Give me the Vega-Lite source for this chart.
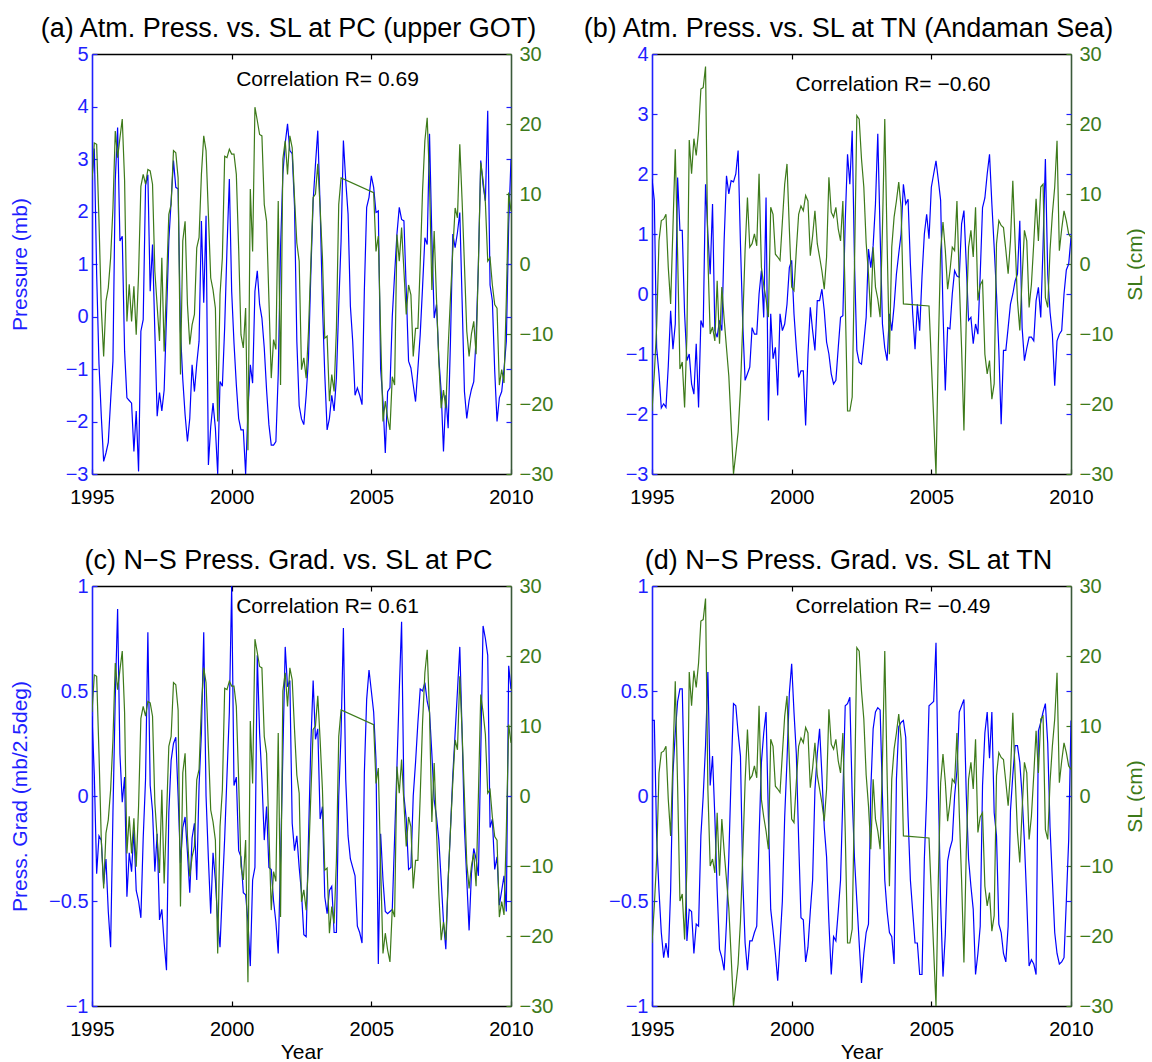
{
"$schema": "https://vega.github.io/schema/vega-lite/v6.json",
"background": "white",
"padding": {"left": 9, "top": 15, "right": 0, "bottom": 0},
"config": {
  "font": "Liberation Sans",
  "view": {"stroke": null},
  "axis": {"grid": false, "labelFlush": false, "labelFont": "Liberation Sans", "titleFont": "Liberation Sans", "labelFontSize": 20, "titleFontSize": 21, "titleFontWeight": "normal", "tickSize": -5, "tickWidth": 1.2, "domainWidth": 1.6, "labelPadding": 9},
  "axisBottom": {"labelPadding": 18},
  "axisRight": {"labelPadding": 13},
  "title": {"font": "Liberation Sans", "fontSize": 27, "fontWeight": "normal", "color": "black", "anchor": "middle", "baseline": "alphabetic", "offset": 1, "dx": -13}
},
"datasets": {"ts": [
{"t":1995,"pa":2.6,"sa":12,"pb":1.92,"sb":-21,"gc":0.38,"gd":0.36},
{"t":1995.083,"pa":3.2,"sa":17.3,"pb":1.56,"sb":-15.7,"gc":0.1,"gd":0.36},
{"t":1995.167,"pa":0.8,"sa":17.1,"pb":-0.9,"sb":-9,"gc":-0.37,"gd":-0.2},
{"t":1995.25,"pa":-0.9,"sa":6.1,"pb":-1.33,"sb":3.3,"gc":-0.19,"gd":-0.45},
{"t":1995.333,"pa":-1.9,"sa":-6.3,"pb":-1.9,"sb":6.2,"gc":-0.21,"gd":-0.65},
{"t":1995.417,"pa":-2.76,"sa":-13.2,"pb":-1.83,"sb":6.4,"gc":-0.42,"gd":-0.77},
{"t":1995.5,"pa":-2.6,"sa":-5.3,"pb":-1.89,"sb":7.1,"gc":-0.3,"gd":-0.7},
{"t":1995.583,"pa":-2.4,"sa":-3.4,"pb":-1.2,"sb":-0.5,"gc":-0.55,"gd":-0.77},
{"t":1995.667,"pa":-1.6,"sa":0.9,"pb":-0.28,"sb":-5.7,"gc":-0.72,"gd":-0.45},
{"t":1995.75,"pa":-0.85,"sa":8,"pb":-0.92,"sb":5.2,"gc":-0.08,"gd":0.11},
{"t":1995.833,"pa":2.6,"sa":19,"pb":-0.5,"sb":16.4,"gc":0.47,"gd":0.3},
{"t":1995.917,"pa":3.6,"sa":15.2,"pb":1.94,"sb":1.4,"gc":0.89,"gd":0.45},
{"t":1996,"pa":1.44,"sa":18,"pb":1.06,"sb":-15,"gc":0.2,"gd":0.51},
{"t":1996.083,"pa":1.53,"sa":20.7,"pb":1.06,"sb":-14,"gc":-0.03,"gd":0.51},
{"t":1996.167,"pa":-0.66,"sa":11.9,"pb":-0.33,"sb":-20.5,"gc":0.09,"gd":0},
{"t":1996.25,"pa":-1.55,"sa":-8.2,"pb":-1.11,"sb":-10.2,"gc":-0.48,"gd":-0.69},
{"t":1996.333,"pa":-1.6,"sa":-2.9,"pb":-1,"sb":17.7,"gc":-0.27,"gd":-0.54},
{"t":1996.417,"pa":-1.65,"sa":-8.2,"pb":-1.5,"sb":12.9,"gc":-0.36,"gd":-0.55},
{"t":1996.5,"pa":-2.57,"sa":-3.2,"pb":-1.67,"sb":17.9,"gc":-0.16,"gd":-0.75},
{"t":1996.583,"pa":-1.8,"sa":-10.1,"pb":-0.83,"sb":15.5,"gc":-0.45,"gd":-0.61},
{"t":1996.667,"pa":-2.95,"sa":-1.5,"pb":-1.89,"sb":19,"gc":-0.5,"gd":-0.62},
{"t":1996.75,"pa":-0.28,"sa":11.1,"pb":-0.44,"sb":25,"gc":-0.58,"gd":-0.19},
{"t":1996.833,"pa":-0.06,"sa":12.8,"pb":-0.56,"sb":25.2,"gc":-0.2,"gd":0},
{"t":1996.917,"pa":2.5,"sa":11.4,"pb":1.83,"sb":28.2,"gc":0.08,"gd":0.24},
{"t":1997,"pa":2.7,"sa":13.5,"pb":1,"sb":1,"gc":0.78,"gd":0.59},
{"t":1997.083,"pa":0.48,"sa":13.3,"pb":0.33,"sb":-10,"gc":0.05,"gd":0.05},
{"t":1997.167,"pa":1.37,"sa":11.4,"pb":1.5,"sb":-9,"gc":-0.07,"gd":0.19},
{"t":1997.25,"pa":-0.3,"sa":-1,"pb":-0.61,"sb":-11,"gc":-0.36,"gd":-0.1},
{"t":1997.333,"pa":-1.9,"sa":-6,"pb":-0.72,"sb":-2.4,"gc":-0.18,"gd":-0.45},
{"t":1997.417,"pa":-1.45,"sa":-11,"pb":-0.44,"sb":-11.4,"gc":-0.59,"gd":-0.73},
{"t":1997.5,"pa":-1.8,"sa":0.9,"pb":-0.61,"sb":-3.3,"gc":-0.54,"gd":-0.77},
{"t":1997.583,"pa":-1.4,"sa":-12.5,"pb":0.9,"sb":-7.9,"gc":-0.7,"gd":-0.83},
{"t":1997.667,"pa":0,"sa":-3,"pb":1.97,"sb":-12,"gc":-0.83,"gd":-0.6},
{"t":1997.75,"pa":1.44,"sa":7.1,"pb":1.67,"sb":-16,"gc":-0.08,"gd":-0.29},
{"t":1997.833,"pa":2.2,"sa":8.5,"pb":1.89,"sb":-22.9,"gc":0.17,"gd":0.1},
{"t":1997.917,"pa":2.97,"sa":16.2,"pb":1.87,"sb":-30,"gc":0.25,"gd":0.44},
{"t":1998,"pa":2.46,"sa":15.9,"pb":2,"sb":-27.1,"gc":0.28,"gd":0.43},
{"t":1998.083,"pa":2.43,"sa":12.3,"pb":2.39,"sb":-24,"gc":0,"gd":0.3},
{"t":1998.167,"pa":-0.28,"sa":-15.8,"pb":0.83,"sb":-17.9,"gc":-0.32,"gd":0.19},
{"t":1998.25,"pa":-1.2,"sa":3.3,"pb":-0.5,"sb":-8.3,"gc":-0.15,"gd":-0.4},
{"t":1998.333,"pa":-1.87,"sa":6.1,"pb":-1.44,"sb":2,"gc":-0.1,"gd":-0.7},
{"t":1998.417,"pa":-2.38,"sa":-5.8,"pb":-1.33,"sb":9.5,"gc":-0.27,"gd":-0.83},
{"t":1998.5,"pa":-1.94,"sa":-11.5,"pb":-1.22,"sb":2.4,"gc":-0.46,"gd":-0.69},
{"t":1998.583,"pa":-0.92,"sa":-8.7,"pb":-0.56,"sb":2.9,"gc":-0.2,"gd":-0.69},
{"t":1998.667,"pa":-1.43,"sa":-7.2,"pb":-0.67,"sb":4.3,"gc":-0.13,"gd":-0.65},
{"t":1998.75,"pa":-0.9,"sa":2.3,"pb":-0.67,"sb":2.6,"gc":-0.4,"gd":-0.62},
{"t":1998.833,"pa":-0.47,"sa":3.8,"pb":0,"sb":12.9,"gc":0.05,"gd":-0.2},
{"t":1998.917,"pa":1.82,"sa":12.8,"pb":0.39,"sb":-0.5,"gc":0.3,"gd":0.16},
{"t":1999,"pa":0.26,"sa":18.3,"pb":-0.39,"sb":-3,"gc":0.78,"gd":0.3},
{"t":1999.083,"pa":1.92,"sa":16.2,"pb":1.61,"sb":-5,"gc":0,"gd":0.4},
{"t":1999.167,"pa":-2.83,"sa":7,"pb":-2.11,"sb":-7.6,"gc":-0.3,"gd":-0.1},
{"t":1999.25,"pa":-2.1,"sa":-2,"pb":-0.33,"sb":8.1,"gc":-0.56,"gd":-0.54},
{"t":1999.333,"pa":-1.65,"sa":-3.7,"pb":-1.08,"sb":7.1,"gc":-0.27,"gd":-0.64},
{"t":1999.417,"pa":-2.13,"sa":-6.3,"pb":-0.89,"sb":1.4,"gc":-0.4,"gd":-0.75},
{"t":1999.5,"pa":-3,"sa":-22.5,"pb":-1.69,"sb":1,"gc":-0.6,"gd":-0.88},
{"t":1999.583,"pa":-1.24,"sa":-4.4,"pb":-0.33,"sb":0.5,"gc":-0.72,"gd":-0.7},
{"t":1999.667,"pa":-1.33,"sa":0.9,"pb":-0.61,"sb":6,"gc":-0.45,"gd":-0.5},
{"t":1999.75,"pa":-0.2,"sa":15.4,"pb":-0.5,"sb":11.4,"gc":-0.2,"gd":-0.1},
{"t":1999.833,"pa":1.31,"sa":15.2,"pb":-0.17,"sb":14.3,"gc":0.1,"gd":0.17},
{"t":1999.917,"pa":2.62,"sa":16.4,"pb":0.44,"sb":5,"gc":0.4,"gd":0.49},
{"t":2000,"pa":0.48,"sa":15.7,"pb":0.56,"sb":-3.3,"gc":1,"gd":0.63},
{"t":2000.083,"pa":-0.5,"sa":15.7,"pb":-0.33,"sb":-3.8,"gc":0.05,"gd":0.4},
{"t":2000.167,"pa":-1.3,"sa":12.8,"pb":-0.9,"sb":2,"gc":0.09,"gd":0.2},
{"t":2000.25,"pa":-1.94,"sa":2.3,"pb":-1.39,"sb":7.1,"gc":-0.26,"gd":-0.21},
{"t":2000.333,"pa":-2.16,"sa":-10.1,"pb":-1.28,"sb":8.3,"gc":-0.29,"gd":-0.58},
{"t":2000.417,"pa":-2.16,"sa":-12,"pb":-1.28,"sb":7.6,"gc":-0.46,"gd":-0.59},
{"t":2000.5,"pa":-3,"sa":-6.3,"pb":-2.19,"sb":9.8,"gc":-0.47,"gd":-0.79},
{"t":2000.583,"pa":-1.8,"sa":-26.6,"pb":-1,"sb":9,"gc":-0.6,"gd":-0.72},
{"t":2000.667,"pa":-0.92,"sa":10.7,"pb":-0.22,"sb":1.2,"gc":-0.81,"gd":-0.55},
{"t":2000.75,"pa":-1.27,"sa":1.8,"pb":-0.61,"sb":4,"gc":-0.4,"gd":-0.4},
{"t":2000.833,"pa":0.48,"sa":22.4,"pb":-0.94,"sb":7.6,"gc":-0.34,"gd":0.03},
{"t":2000.917,"pa":0.87,"sa":20.5,"pb":-0.11,"sb":2.9,"gc":0.67,"gd":0.2},
{"t":2001,"pa":0.23,"sa":18.5,"pb":-0.11,"sb":1,"gc":0.3,"gd":0.32},
{"t":2001.083,"pa":-0.03,"sa":18.3,"pb":0.08,"sb":-1,"gc":0.08,"gd":0.1},
{"t":2001.167,"pa":-0.6,"sa":8.5,"pb":-0.28,"sb":-3.6,"gc":-0.21,"gd":-0.15},
{"t":2001.25,"pa":-1.4,"sa":6.1,"pb":-0.8,"sb":1,"gc":-0.05,"gd":-0.29},
{"t":2001.333,"pa":-2.06,"sa":-5,"pb":-1,"sb":12.4,"gc":-0.34,"gd":-0.6},
{"t":2001.417,"pa":-2.45,"sa":-16.3,"pb":-1.33,"sb":7.4,"gc":-0.35,"gd":-0.85},
{"t":2001.5,"pa":-2.45,"sa":-10.8,"pb":-1.5,"sb":6.7,"gc":-0.5,"gd":-0.67},
{"t":2001.583,"pa":-2.38,"sa":-12.2,"pb":-1.44,"sb":8.1,"gc":-0.6,"gd":-0.69},
{"t":2001.667,"pa":-1.1,"sa":9,"pb":-0.9,"sb":5,"gc":-0.75,"gd":-0.55},
{"t":2001.75,"pa":1.31,"sa":-17.3,"pb":-0.39,"sb":3.3,"gc":-0.3,"gd":-0.4},
{"t":2001.833,"pa":2.71,"sa":15,"pb":-0.36,"sb":9,"gc":0.2,"gd":0},
{"t":2001.917,"pa":3.3,"sa":17.6,"pb":1.2,"sb":-5,"gc":0.71,"gd":0.43},
{"t":2002,"pa":3.67,"sa":12.8,"pb":2.33,"sb":-21,"gc":0.52,"gd":0.44},
{"t":2002.083,"pa":3.16,"sa":18.3,"pb":1.83,"sb":-21,"gc":0.55,"gd":0.47},
{"t":2002.167,"pa":3.1,"sa":16.6,"pb":2.72,"sb":-19,"gc":-0.13,"gd":0},
{"t":2002.25,"pa":2.1,"sa":9.5,"pb":0.5,"sb":0,"gc":-0.26,"gd":-0.3},
{"t":2002.333,"pa":-0.47,"sa":3,"pb":-0.94,"sb":21.2,"gc":-0.19,"gd":-0.5},
{"t":2002.417,"pa":-1.7,"sa":0.4,"pb":-1.14,"sb":20.7,"gc":-0.34,"gd":-0.7},
{"t":2002.5,"pa":-1.95,"sa":-15.1,"pb":-1.17,"sb":15,"gc":-0.46,"gd":-0.89},
{"t":2002.583,"pa":-2.06,"sa":-13.4,"pb":-0.8,"sb":11,"gc":-0.66,"gd":-0.75},
{"t":2002.667,"pa":-1.5,"sa":-16.3,"pb":-0.39,"sb":3,"gc":-0.67,"gd":-0.65},
{"t":2002.75,"pa":-0.8,"sa":-9.6,"pb":0.75,"sb":-1.4,"gc":-0.2,"gd":-0.61},
{"t":2002.833,"pa":0.8,"sa":0,"pb":0.44,"sb":-7.6,"gc":0.24,"gd":0.03},
{"t":2002.917,"pa":2.2,"sa":9.5,"pb":0.81,"sb":2.4,"gc":0.55,"gd":0.32},
{"t":2003,"pa":2.9,"sa":10,"pb":1.5,"sb":-3.3,"gc":0.27,"gd":0.4},
{"t":2003.083,"pa":3.54,"sa":14.3,"pb":2.67,"sb":-5,"gc":0.32,"gd":0.42},
{"t":2003.167,"pa":2.08,"sa":8,"pb":1,"sb":-7.6,"gc":-0.11,"gd":0.41},
{"t":2003.25,"pa":0.23,"sa":0.9,"pb":-0.5,"sb":5,"gc":-0.05,"gd":0},
{"t":2003.333,"pa":-1.1,"sa":-10.6,"pb":-0.9,"sb":20.7,"gc":-0.48,"gd":-0.4},
{"t":2003.417,"pa":-2.16,"sa":-10.3,"pb":-1.11,"sb":3,"gc":-0.56,"gd":-0.55},
{"t":2003.5,"pa":-1.94,"sa":-19.6,"pb":-0.33,"sb":-12.9,"gc":-0.45,"gd":-0.65},
{"t":2003.583,"pa":-1.5,"sa":-15.8,"pb":-0.61,"sb":2.4,"gc":-0.43,"gd":-0.67},
{"t":2003.667,"pa":-1.8,"sa":-18.2,"pb":-0.2,"sb":6.7,"gc":-0.65,"gd":-0.8},
{"t":2003.75,"pa":-1.17,"sa":-9.2,"pb":0.33,"sb":9,"gc":-0.65,"gd":0.08},
{"t":2003.833,"pa":0.2,"sa":8.5,"pb":0.67,"sb":11.7,"gc":0,"gd":0.33},
{"t":2003.917,"pa":1.44,"sa":12.3,"pb":1,"sb":8.1,"gc":0.3,"gd":0.35},
{"t":2004,"pa":3.35,"sa":null,"pb":1.83,"sb":-5.7,"gc":0.8,"gd":0.36},
{"t":2004.083,"pa":2.59,"sa":null,"pb":1.5,"sb":null,"gc":0.08,"gd":0.28},
{"t":2004.167,"pa":1.95,"sa":null,"pb":1.58,"sb":null,"gc":-0.19,"gd":-0.1},
{"t":2004.25,"pa":0.2,"sa":null,"pb":0.5,"sb":null,"gc":-0.3,"gd":-0.4},
{"t":2004.333,"pa":-0.47,"sa":null,"pb":-0.33,"sb":null,"gc":-0.34,"gd":-0.55},
{"t":2004.417,"pa":-1.5,"sa":null,"pb":-0.92,"sb":null,"gc":-0.38,"gd":-0.7},
{"t":2004.5,"pa":-1.36,"sa":null,"pb":-0.17,"sb":null,"gc":-0.62,"gd":-0.7},
{"t":2004.583,"pa":-1.5,"sa":null,"pb":-0.61,"sb":null,"gc":-0.65,"gd":-0.85},
{"t":2004.667,"pa":-1.68,"sa":null,"pb":0.3,"sb":null,"gc":-0.7,"gd":-0.85},
{"t":2004.75,"pa":0.5,"sa":null,"pb":1,"sb":null,"gc":0.11,"gd":-0.3},
{"t":2004.833,"pa":2.08,"sa":null,"pb":1.33,"sb":null,"gc":0.46,"gd":0},
{"t":2004.917,"pa":2.27,"sa":null,"pb":0.92,"sb":-6,"gc":0.6,"gd":0.43},
{"t":2005,"pa":2.68,"sa":null,"pb":1.78,"sb":null,"gc":0.5,"gd":0.44},
{"t":2005.083,"pa":2.46,"sa":10.2,"pb":2,"sb":null,"gc":0.4,"gd":0.45},
{"t":2005.167,"pa":1.98,"sa":1.8,"pb":2.22,"sb":-30,"gc":0.17,"gd":0.73},
{"t":2005.25,"pa":2.01,"sa":4,"pb":1.9,"sb":-12,"gc":-0.8,"gd":0.05},
{"t":2005.333,"pa":-1,"sa":-10,"pb":1.56,"sb":1.9,"gc":-0.18,"gd":-0.51},
{"t":2005.417,"pa":-1.62,"sa":-22.5,"pb":-0.28,"sb":6,"gc":-0.4,"gd":-0.86},
{"t":2005.5,"pa":-2.6,"sa":-19.6,"pb":-1.61,"sb":2,"gc":-0.55,"gd":-0.66},
{"t":2005.583,"pa":-1.43,"sa":-22,"pb":-0.56,"sb":-3.6,"gc":-0.56,"gd":-0.31},
{"t":2005.667,"pa":-1.36,"sa":-23.7,"pb":-0.58,"sb":-1,"gc":-0.55,"gd":-0.25},
{"t":2005.75,"pa":0,"sa":-16.1,"pb":0,"sb":2.4,"gc":-0.54,"gd":-0.21},
{"t":2005.833,"pa":0.8,"sa":-17.3,"pb":0.39,"sb":1.9,"gc":-0.2,"gd":0},
{"t":2005.917,"pa":1.57,"sa":4.2,"pb":0.3,"sb":9,"gc":0.14,"gd":0.12},
{"t":2006,"pa":2.08,"sa":0.4,"pb":0.28,"sb":-2.4,"gc":0.5,"gd":0.4},
{"t":2006.083,"pa":1.85,"sa":5.2,"pb":1.17,"sb":-12,"gc":0.83,"gd":0.43},
{"t":2006.167,"pa":1.82,"sa":-1,"pb":1.39,"sb":-23.8,"gc":0,"gd":0.46},
{"t":2006.25,"pa":0.5,"sa":-7.2,"pb":0.5,"sb":-8,"gc":-0.11,"gd":0.01},
{"t":2006.333,"pa":-0.85,"sa":-3,"pb":-0.44,"sb":2.4,"gc":-0.35,"gd":-0.3},
{"t":2006.417,"pa":-0.98,"sa":-4.4,"pb":-0.39,"sb":4.8,"gc":-0.34,"gd":-0.43},
{"t":2006.5,"pa":-1.3,"sa":-13.2,"pb":-0.83,"sb":1,"gc":0,"gd":-0.54},
{"t":2006.583,"pa":-1.62,"sa":-9.2,"pb":-0.5,"sb":8.1,"gc":0.16,"gd":-0.85},
{"t":2006.667,"pa":-1,"sa":-9.2,"pb":-0.67,"sb":-5.2,"gc":0.35,"gd":-0.75},
{"t":2006.75,"pa":-0.34,"sa":0,"pb":0.33,"sb":-3,"gc":0.51,"gd":-0.62},
{"t":2006.833,"pa":0.55,"sa":10.4,"pb":1.44,"sb":-2.4,"gc":0.5,"gd":0.05},
{"t":2006.917,"pa":1.5,"sa":17.6,"pb":1.6,"sb":-12.9,"gc":0.54,"gd":0.3},
{"t":2007,"pa":1.37,"sa":20.9,"pb":2,"sb":-15.7,"gc":0.45,"gd":0.4},
{"t":2007.083,"pa":3.48,"sa":11.9,"pb":2.33,"sb":-13.8,"gc":0.4,"gd":0.18},
{"t":2007.167,"pa":1.5,"sa":-3.7,"pb":1.5,"sb":-19.3,"gc":0.2,"gd":0.4},
{"t":2007.25,"pa":-0.03,"sa":4.7,"pb":0.78,"sb":-17.1,"gc":-0.02,"gd":-0.08},
{"t":2007.333,"pa":0.23,"sa":-5,"pb":0,"sb":2.9,"gc":-0.1,"gd":-0.19},
{"t":2007.417,"pa":-0.8,"sa":-14,"pb":-0.94,"sb":6.2,"gc":-0.21,"gd":-0.61},
{"t":2007.5,"pa":-1.43,"sa":-20.6,"pb":-2.17,"sb":5.5,"gc":-0.4,"gd":-0.65},
{"t":2007.583,"pa":-2.57,"sa":-18,"pb":-0.94,"sb":5.2,"gc":-0.6,"gd":-0.75},
{"t":2007.667,"pa":-1.5,"sa":-20.6,"pb":-0.94,"sb":2,"gc":-0.73,"gd":-0.79},
{"t":2007.75,"pa":-2.13,"sa":-12,"pb":-0.56,"sb":-1.4,"gc":-0.4,"gd":-0.62},
{"t":2007.833,"pa":-0.47,"sa":-4.8,"pb":-0.17,"sb":3.3,"gc":-0.16,"gd":-0.07},
{"t":2007.917,"pa":1.57,"sa":2,"pb":0,"sb":11.9,"gc":0.1,"gd":0.1},
{"t":2008,"pa":1.31,"sa":8,"pb":0.22,"sb":3,"gc":0.3,"gd":0.24},
{"t":2008.083,"pa":1.6,"sa":6.6,"pb":0.33,"sb":-5.2,"gc":0.5,"gd":0.24},
{"t":2008.167,"pa":1.98,"sa":17.1,"pb":1.22,"sb":-9.5,"gc":0.71,"gd":0.16},
{"t":2008.25,"pa":0.3,"sa":9,"pb":-0.56,"sb":-2,"gc":0.3,"gd":0},
{"t":2008.333,"pa":-1.43,"sa":-0.1,"pb":-1.11,"sb":4.8,"gc":-0.15,"gd":-0.22},
{"t":2008.417,"pa":-1.94,"sa":-9.6,"pb":-0.9,"sb":3.3,"gc":-0.4,"gd":-0.5},
{"t":2008.5,"pa":-1.6,"sa":-13.2,"pb":-0.72,"sb":-6.2,"gc":-0.64,"gd":-0.81},
{"t":2008.583,"pa":-1.39,"sa":-10,"pb":-0.72,"sb":-2.9,"gc":-0.37,"gd":-0.78},
{"t":2008.667,"pa":-1.24,"sa":-8.2,"pb":-0.78,"sb":3,"gc":-0.25,"gd":-0.8},
{"t":2008.75,"pa":-0.41,"sa":-12.9,"pb":-0.11,"sb":9.3,"gc":-0.3,"gd":-0.85},
{"t":2008.833,"pa":1,"sa":0,"pb":0.11,"sb":3.3,"gc":-0.38,"gd":0.31},
{"t":2008.917,"pa":2.97,"sa":14.5,"pb":-0.39,"sb":11,"gc":0.2,"gd":0.35},
{"t":2009,"pa":2.5,"sa":12,"pb":0.8,"sb":11.4,"gc":0.81,"gd":0.4},
{"t":2009.083,"pa":2.2,"sa":8.8,"pb":2.25,"sb":-4.8,"gc":0.75,"gd":0.44},
{"t":2009.167,"pa":3.92,"sa":0.4,"pb":0.33,"sb":-6.2,"gc":0.67,"gd":0.25},
{"t":2009.25,"pa":0.6,"sa":0.9,"pb":-0.3,"sb":2,"gc":-0.15,"gd":-0.15},
{"t":2009.333,"pa":0.3,"sa":-3,"pb":-0.67,"sb":7.1,"gc":-0.11,"gd":-0.4},
{"t":2009.417,"pa":-1.04,"sa":-5.8,"pb":-1.53,"sb":11,"gc":-0.35,"gd":-0.65},
{"t":2009.5,"pa":-2,"sa":-6.3,"pb":-0.78,"sb":17.6,"gc":-0.29,"gd":-0.75},
{"t":2009.583,"pa":-1.55,"sa":-17.3,"pb":-0.67,"sb":1.9,"gc":-0.52,"gd":-0.8},
{"t":2009.667,"pa":-1.43,"sa":-15.1,"pb":-0.61,"sb":5,"gc":-0.45,"gd":-0.79},
{"t":2009.75,"pa":-1,"sa":-17,"pb":0,"sb":7.6,"gc":-0.38,"gd":-0.77},
{"t":2009.833,"pa":-0.47,"sa":-5,"pb":0.4,"sb":6.2,"gc":-0.55,"gd":-0.5},
{"t":2009.917,"pa":1.76,"sa":10.2,"pb":0.5,"sb":4.3,"gc":0.62,"gd":-0.21},
{"t":2010,"pa":3,"sa":7.6,"pb":0.94,"sb":3.8,"gc":0.51,"gd":0.36}
]},
"columns": 2,
"spacing": {"row": 112, "column": 141},
"bounds": "flush",
"concat": [
{
 "width": 419, "height": 420,
 "title": {"text": "(a) Atm. Press. vs. SL at PC (upper GOT)"},
 "layer": [
  {"data": {"name": "ts"},
   "mark": {"type": "line", "color": "#0000ff", "strokeWidth": 1.2, "clip": true},
   "encoding": {
    "x": {"field": "t", "type": "quantitative", "scale": {"domain": [1995, 2010], "nice": false, "zero": false},
          "axis": {"orient": "bottom", "values": [1995, 2000, 2005, 2010], "format": "d", "title": null, "domainColor": "black", "tickColor": "black", "labelColor": "black"}},
    "y": {"field": "pa", "type": "quantitative", "scale": {"domain": [-3, 5], "nice": false, "zero": false},
          "axis": {"orient": "left", "values": [-3, -2, -1, 0, 1, 2, 3, 4, 5], "title": "Pressure (mb)", "titleColor": "#1f1fff", "labelColor": "#1f1fff", "domainColor": "#1f1fff", "tickColor": "#1f1fff", "titleX": -72, "titleBaseline": "middle"}}
   }},
  {"data": {"name": "ts"},
   "mark": {"type": "line", "color": "#3d7a1a", "strokeWidth": 1.2, "clip": true, "invalid": "filter"},
   "encoding": {
    "x": {"field": "t", "type": "quantitative", "scale": {"domain": [1995, 2010], "nice": false, "zero": false},
          "axis": {"orient": "top", "values": [2000, 2005], "labels": false, "title": null, "domainColor": "black", "tickColor": "black"}},
    "y": {"field": "sa", "type": "quantitative", "scale": {"domain": [-30, 30], "nice": false, "zero": false},
          "axis": {"orient": "right", "values": [-30, -20, -10, 0, 10, 20, 30], "title": null, "labelColor": "#3d7a1a", "tickColor": "#3d7a1a", "domainColor": "#3a5a3a"}}
   }},
  {"data": {"values": [{"r": "Correlation R= 0.69"}]},
   "mark": {"type": "text", "fontSize": 21, "color": "black", "align": "center", "baseline": "middle", "font": "Liberation Sans"},
   "encoding": {
    "x": {"datum": 2003.43, "type": "quantitative", "scale": {"domain": [1995, 2010], "nice": false, "zero": false}, "axis": null},
    "y": {"datum": 4.5, "type": "quantitative", "scale": {"domain": [-3, 5], "nice": false, "zero": false},
          "axis": {"orient": "right", "values": [-2, -1, 0, 1, 2, 3, 4], "labels": false, "domain": false, "title": null, "tickColor": "#1f1fff"}},
    "text": {"field": "r"}
   }}
 ],
 "resolve": {"scale": {"y": "independent"}, "axis": {"x": "independent", "y": "independent"}}
},
{
 "width": 419, "height": 420,
 "title": {"text": "(b) Atm. Press. vs. SL at TN (Andaman Sea)"},
 "layer": [
  {"data": {"name": "ts"},
   "mark": {"type": "line", "color": "#0000ff", "strokeWidth": 1.2, "clip": true},
   "encoding": {
    "x": {"field": "t", "type": "quantitative", "scale": {"domain": [1995, 2010], "nice": false, "zero": false},
          "axis": {"orient": "bottom", "values": [1995, 2000, 2005, 2010], "format": "d", "title": null, "domainColor": "black", "tickColor": "black", "labelColor": "black"}},
    "y": {"field": "pb", "type": "quantitative", "scale": {"domain": [-3, 4], "nice": false, "zero": false},
          "axis": {"orient": "left", "values": [-3, -2, -1, 0, 1, 2, 3, 4], "title": null, "labelColor": "#1f1fff", "domainColor": "#1f1fff", "tickColor": "#1f1fff"}}
   }},
  {"data": {"name": "ts"},
   "mark": {"type": "line", "color": "#3d7a1a", "strokeWidth": 1.2, "clip": true, "invalid": "filter"},
   "encoding": {
    "x": {"field": "t", "type": "quantitative", "scale": {"domain": [1995, 2010], "nice": false, "zero": false},
          "axis": {"orient": "top", "values": [2000, 2005], "labels": false, "title": null, "domainColor": "black", "tickColor": "black"}},
    "y": {"field": "sb", "type": "quantitative", "scale": {"domain": [-30, 30], "nice": false, "zero": false},
          "axis": {"orient": "right", "values": [-30, -20, -10, 0, 10, 20, 30], "title": "SL (cm)", "titleColor": "#3d7a1a", "titleAngle": 270, "titleX": 64, "titleBaseline": "middle", "labelColor": "#3d7a1a", "tickColor": "#3d7a1a", "domainColor": "#3a5a3a"}}
   }},
  {"data": {"values": [{"r": "Correlation R= −0.60"}]},
   "mark": {"type": "text", "fontSize": 21, "color": "black", "align": "center", "baseline": "middle", "font": "Liberation Sans"},
   "encoding": {
    "x": {"datum": 2003.63, "type": "quantitative", "scale": {"domain": [1995, 2010], "nice": false, "zero": false}, "axis": null},
    "y": {"datum": 3.48, "type": "quantitative", "scale": {"domain": [-3, 4], "nice": false, "zero": false},
          "axis": {"orient": "right", "values": [-2, -1, 0, 1, 2, 3], "labels": false, "domain": false, "title": null, "tickColor": "#1f1fff"}},
    "text": {"field": "r"}
   }}
 ],
 "resolve": {"scale": {"y": "independent"}, "axis": {"x": "independent", "y": "independent"}}
},
{
 "width": 419, "height": 420,
 "title": {"text": "(c) N−S Press. Grad. vs. SL at PC"},
 "layer": [
  {"data": {"name": "ts"},
   "mark": {"type": "line", "color": "#0000ff", "strokeWidth": 1.2, "clip": true},
   "encoding": {
    "x": {"field": "t", "type": "quantitative", "scale": {"domain": [1995, 2010], "nice": false, "zero": false},
          "axis": {"orient": "bottom", "values": [1995, 2000, 2005, 2010], "format": "d", "title": "Year", "titleY": 46, "titleBaseline": "middle", "domainColor": "black", "tickColor": "black", "labelColor": "black"}},
    "y": {"field": "gc", "type": "quantitative", "scale": {"domain": [-1, 1], "nice": false, "zero": false},
          "axis": {"orient": "left", "values": [-1, -0.5, 0, 0.5, 1], "format": "~g", "title": "Press. Grad (mb/2.5deg)", "titleColor": "#1f1fff", "labelColor": "#1f1fff", "domainColor": "#1f1fff", "tickColor": "#1f1fff", "titleX": -72, "titleBaseline": "middle"}}
   }},
  {"data": {"name": "ts"},
   "mark": {"type": "line", "color": "#3d7a1a", "strokeWidth": 1.2, "clip": true, "invalid": "filter"},
   "encoding": {
    "x": {"field": "t", "type": "quantitative", "scale": {"domain": [1995, 2010], "nice": false, "zero": false},
          "axis": {"orient": "top", "values": [2000, 2005], "labels": false, "title": null, "domainColor": "black", "tickColor": "black"}},
    "y": {"field": "sa", "type": "quantitative", "scale": {"domain": [-30, 30], "nice": false, "zero": false},
          "axis": {"orient": "right", "values": [-30, -20, -10, 0, 10, 20, 30], "title": null, "labelColor": "#3d7a1a", "tickColor": "#3d7a1a", "domainColor": "#3a5a3a"}}
   }},
  {"data": {"values": [{"r": "Correlation R= 0.61"}]},
   "mark": {"type": "text", "fontSize": 21, "color": "black", "align": "center", "baseline": "middle", "font": "Liberation Sans"},
   "encoding": {
    "x": {"datum": 2003.43, "type": "quantitative", "scale": {"domain": [1995, 2010], "nice": false, "zero": false}, "axis": null},
    "y": {"datum": 0.9, "type": "quantitative", "scale": {"domain": [-1, 1], "nice": false, "zero": false},
          "axis": {"orient": "right", "values": [-0.5, 0, 0.5], "labels": false, "domain": false, "title": null, "tickColor": "#1f1fff"}},
    "text": {"field": "r"}
   }}
 ],
 "resolve": {"scale": {"y": "independent"}, "axis": {"x": "independent", "y": "independent"}}
},
{
 "width": 419, "height": 420,
 "title": {"text": "(d) N−S Press. Grad. vs. SL at TN"},
 "layer": [
  {"data": {"name": "ts"},
   "mark": {"type": "line", "color": "#0000ff", "strokeWidth": 1.2, "clip": true},
   "encoding": {
    "x": {"field": "t", "type": "quantitative", "scale": {"domain": [1995, 2010], "nice": false, "zero": false},
          "axis": {"orient": "bottom", "values": [1995, 2000, 2005, 2010], "format": "d", "title": "Year", "titleY": 46, "titleBaseline": "middle", "domainColor": "black", "tickColor": "black", "labelColor": "black"}},
    "y": {"field": "gd", "type": "quantitative", "scale": {"domain": [-1, 1], "nice": false, "zero": false},
          "axis": {"orient": "left", "values": [-1, -0.5, 0, 0.5, 1], "format": "~g", "title": null, "labelColor": "#1f1fff", "domainColor": "#1f1fff", "tickColor": "#1f1fff"}}
   }},
  {"data": {"name": "ts"},
   "mark": {"type": "line", "color": "#3d7a1a", "strokeWidth": 1.2, "clip": true, "invalid": "filter"},
   "encoding": {
    "x": {"field": "t", "type": "quantitative", "scale": {"domain": [1995, 2010], "nice": false, "zero": false},
          "axis": {"orient": "top", "values": [2000, 2005], "labels": false, "title": null, "domainColor": "black", "tickColor": "black"}},
    "y": {"field": "sb", "type": "quantitative", "scale": {"domain": [-30, 30], "nice": false, "zero": false},
          "axis": {"orient": "right", "values": [-30, -20, -10, 0, 10, 20, 30], "title": "SL (cm)", "titleColor": "#3d7a1a", "titleAngle": 270, "titleX": 64, "titleBaseline": "middle", "labelColor": "#3d7a1a", "tickColor": "#3d7a1a", "domainColor": "#3a5a3a"}}
   }},
  {"data": {"values": [{"r": "Correlation R= −0.49"}]},
   "mark": {"type": "text", "fontSize": 21, "color": "black", "align": "center", "baseline": "middle", "font": "Liberation Sans"},
   "encoding": {
    "x": {"datum": 2003.63, "type": "quantitative", "scale": {"domain": [1995, 2010], "nice": false, "zero": false}, "axis": null},
    "y": {"datum": 0.9, "type": "quantitative", "scale": {"domain": [-1, 1], "nice": false, "zero": false},
          "axis": {"orient": "right", "values": [-0.5, 0, 0.5], "labels": false, "domain": false, "title": null, "tickColor": "#1f1fff"}},
    "text": {"field": "r"}
   }}
 ],
 "resolve": {"scale": {"y": "independent"}, "axis": {"x": "independent", "y": "independent"}}
}
]
}
